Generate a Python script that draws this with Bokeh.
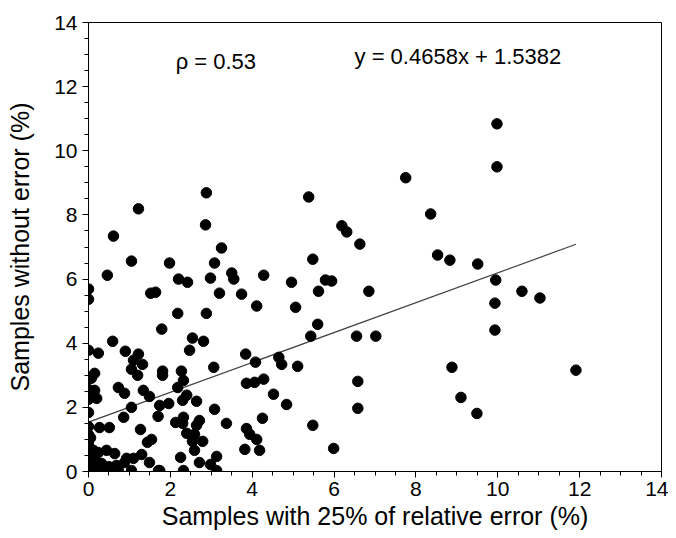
from bokeh.plotting import figure
from bokeh.models import Label, Range1d, FixedTicker
from bokeh.embed import file_html
from bokeh.resources import INLINE

# Data (x: samples with 25% relative error, y: samples without error)
x_vals = [
    0, 0, 0.46, 0.61, 1.22, 1.05, 1.52, 1.64, 1.98, 2.2, 2.42, 2.18, 2.88, 2.86, 3.25, 3.08, 2.98, 2.88,
    3.2, 3.5, 3.55, 3.74, 4.11, 4.28, 4.96, 5.06, 5.38, 5.48, 5.62, 5.79, 5.94, 6.19, 6.31, 6.63, 6.85,
    9.98, 9.98, 7.75, 8.36, 8.53, 8.83, 9.51, 9.95, 10.59, 11.03, 9.93, 6.55, 7.02, 9.93, 8.88, 11.91,
    6.58, 9.1, 6.58, 9.49,
    5.6, 5.43, 3.84, 4.08, 4.65, 4.72, 5.11, 3.86, 4.06, 4.28, 4.52, 4.84, 4.25, 5.48, 3.86, 3.94, 4.11,
    3.82, 4.18, 5.99,
    2.32, 2.18, 2.4, 2.3, 2.64, 1.96, 1.74, 1.7, 3.08, 2.13, 2.3, 2.32, 2.71, 2.64, 3.37, 2.4, 2.59, 2.54,
    2.79, 2.59, 2.25, 3.13, 2.71, 2.98, 2.32, 3.13, 1.74,
    1.79, 2.54, 2.81, 2.47, 3.06, 1.81, 1.81, 2.27,
    0.59, 0, 0.24, 0.9, 1.22, 1.1, 1.32, 1.05, 1.2, 0.15, 0.07, 0, 0, 0.15, 0.73, 0.88, 1.34, 1.49, 0, 0.2,
    1.05, 0.86, 0.27, 0.51, 1.27, 1.54, 1.44,
    0, 0, 0, 0, 0, 0, 0, 0, 0, 0, 0.05, 0.05,
    0.12, 0.24, 0.44, 0.64, 1.3, 0.93, 1.1, 1.49, 0.2, 0.32, 0.68, 0.88, 1.05, 1.71, 0.07, 0.2, 0.39,
    0.56, 0.73, 0.1, 0.35, 0.5,
]
y_vals = [
    5.69, 5.37, 6.12, 7.34, 8.19, 6.56, 5.56, 5.59, 6.5, 6.0, 5.9, 4.93, 8.69, 7.69, 6.97, 6.5, 6.03, 4.93,
    5.56, 6.19, 6.0, 5.53, 5.16, 6.12, 5.9, 5.12, 8.56, 6.62, 5.62, 5.97, 5.94, 7.66, 7.47, 7.09, 5.62,
    10.84, 9.5, 9.16, 8.03, 6.75, 6.59, 6.47, 5.97, 5.62, 5.41, 5.25, 4.22, 4.22, 4.41, 3.25, 3.16,
    2.81, 2.31, 1.97, 1.81,
    4.59, 4.22, 3.66, 3.41, 3.56, 3.34, 3.28, 2.75, 2.78, 2.88, 2.41, 2.09, 1.66, 1.44, 1.34, 1.16, 1.0,
    0.69, 0.66, 0.72,
    2.84, 2.62, 2.38, 2.22, 2.19, 2.12, 2.06, 1.72, 1.94, 1.53, 1.5, 1.69, 1.59, 1.44, 1.5, 1.19, 1.16, 0.94,
    0.94, 0.66, 0.44, 0.47, 0.28, 0.22, 0.03, 0.03, 0.03,
    4.44, 4.16, 4.06, 3.78, 3.25, 3.13, 3.0, 3.13,
    4.06, 3.78, 3.69, 3.75, 3.66, 3.47, 3.34, 3.19, 3.0, 3.06, 2.91, 2.88, 2.56, 2.53, 2.62, 2.44, 2.53, 2.34, 2.25, 2.28,
    2.0, 1.69, 1.37, 1.37, 1.31, 1.0, 0.91,
    1.84, 1.4, 1.15, 0.95, 0.8, 0.65, 0.5, 0.35, 0.2, 0.05, 1.05, 0.45,
    0.66, 0.59, 0.66, 0.56, 0.53, 0.41, 0.41, 0.28, 0.28, 0.25, 0.19, 0.28, 0.03, 0.03, 0.03, 0.03, 0.03,
    0.03, 0.03, 0.12, 0.1, 0.15,
]

slope = 0.4658
intercept = 1.5382
fit_x = [0.0, 11.91]
fit_y = [slope * v + intercept for v in fit_x]

x_ticks = [0, 2, 4, 6, 8, 10, 12, 14]
y_ticks = [0, 2, 4, 6, 8, 10, 12, 14]

FONT = "Liberation Sans"

p = figure(width=668, height=538, output_backend="svg", toolbar_location=None,
           x_range=Range1d(0, 14), y_range=Range1d(0, 14),
           min_border_left=88, min_border_right=7, min_border_top=22, min_border_bottom=67)

p.xgrid.visible = False
p.ygrid.visible = False
p.outline_line_color = "black"
p.outline_line_width = 1
p.background_fill_color = "white"
p.border_fill_color = "white"

for ax, ticks in ((p.xaxis[0], x_ticks), (p.yaxis[0], y_ticks)):
    ax.ticker = FixedTicker(ticks=ticks, minor_ticks=[i * 0.5 for i in range(29)])
    ax.axis_line_color = "black"
    ax.major_tick_line_color = "black"
    ax.minor_tick_line_color = "black"
    ax.major_tick_out = 6
    ax.major_tick_in = 0
    ax.minor_tick_out = 4
    ax.minor_tick_in = 0
    ax.major_label_text_font = FONT
    ax.major_label_text_font_size = "21px"
    ax.major_label_text_color = "black"
    ax.axis_label_text_font = FONT
    ax.axis_label_text_font_size = "25px"
    ax.axis_label_text_font_style = "normal"
    ax.axis_label_text_color = "black"

p.xaxis.axis_label = "Samples with 25% of relative error (%)"
p.yaxis.axis_label = "Samples without error (%)"
p.xaxis.major_label_standoff = 4
p.xaxis.axis_label_standoff = 3
p.yaxis.major_label_standoff = 5
p.yaxis.axis_label_standoff = 17

p.line(fit_x, fit_y, line_color="#404040", line_width=1.2)
p.scatter(x_vals, y_vals, size=10.5, fill_color="black", line_color="black")

p.add_layout(Label(x=2.13, y=12.78, text="ρ = 0.53", text_font=FONT, text_font_size="22px",
                   text_color="black", text_baseline="middle"))
p.add_layout(Label(x=6.5, y=12.95, text="y = 0.4658x + 1.5382", text_font=FONT, text_font_size="22px",
                   text_color="black", text_baseline="middle"))

open("out.html", "w").write(file_html(p, INLINE))
